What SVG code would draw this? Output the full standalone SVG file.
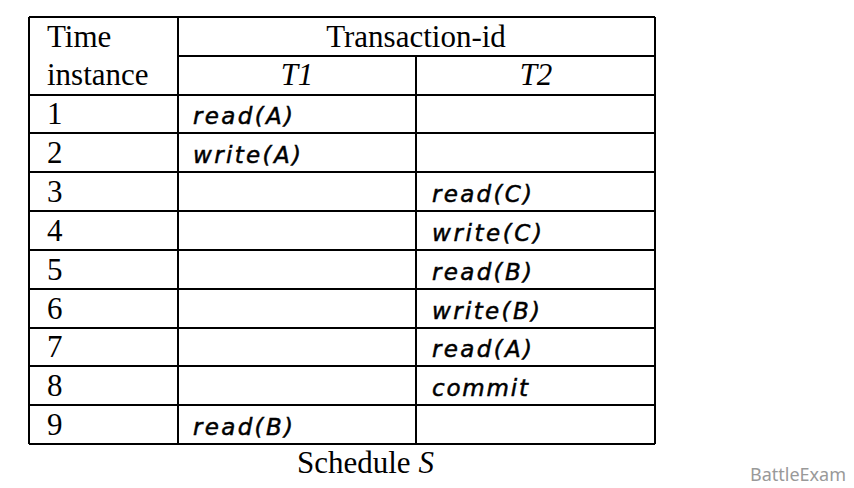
<svg xmlns="http://www.w3.org/2000/svg" width="854" height="488" viewBox="0 0 854 488">
<style>
.g line{stroke:#000;stroke-width:2}
.s{font-family:"Liberation Serif",serif;font-size:31px;fill:#000}
.d{font-family:"DejaVu Sans",sans-serif;font-style:italic;font-size:23px;fill:#000;stroke:#000;stroke-width:0.5}
.c{text-anchor:middle}
</style>
<rect width="854" height="488" fill="#fff"/>
<g id="grid" class="g">
<line x1="29" y1="17" x2="655" y2="17"/>
<line x1="178" y1="56" x2="655" y2="56"/>
<line x1="29" y1="95" x2="655" y2="95"/>
<line x1="29" y1="133" x2="655" y2="133"/>
<line x1="29" y1="172" x2="655" y2="172"/>
<line x1="29" y1="211" x2="655" y2="211"/>
<line x1="29" y1="250" x2="655" y2="250"/>
<line x1="29" y1="289" x2="655" y2="289"/>
<line x1="29" y1="328" x2="655" y2="328"/>
<line x1="29" y1="366" x2="655" y2="366"/>
<line x1="29" y1="405" x2="655" y2="405"/>
<line x1="29" y1="444" x2="655" y2="444"/>
<line x1="29" y1="17" x2="29" y2="444"/>
<line x1="178" y1="17" x2="178" y2="444"/>
<line x1="416" y1="56" x2="416" y2="444"/>
<line x1="655" y1="17" x2="655" y2="444"/>
</g>
<g id="header">
<text class="s" x="47" y="47">Time</text>
<text class="s" x="47" y="85">instance</text>
<text class="s c" x="416" y="47">Transaction-id</text>
<text class="s c" x="297" y="85" font-style="italic">T1</text>
<text class="s c" x="536" y="85" font-style="italic">T2</text>
</g>
<g id="times" class="s">
<text x="47" y="124">1</text>
<text x="47" y="163">2</text>
<text x="47" y="202">3</text>
<text x="47" y="241">4</text>
<text x="47" y="280">5</text>
<text x="47" y="319">6</text>
<text x="47" y="357">7</text>
<text x="47" y="396">8</text>
<text x="47" y="435">9</text>
</g>
<g id="ops" class="d">
<text x="193" y="124" textLength="100">read(A)</text>
<text x="193" y="163" textLength="108">write(A)</text>
<text x="432" y="202" textLength="100">read(C)</text>
<text x="432" y="241" textLength="110">write(C)</text>
<text x="432" y="280" textLength="100">read(B)</text>
<text x="432" y="319" textLength="108">write(B)</text>
<text x="432" y="357" textLength="100">read(A)</text>
<text x="432" y="396" textLength="96">commit</text>
<text x="193" y="435" textLength="100">read(B)</text>
</g>
<text class="s" x="297" y="473">Schedule <tspan font-style="italic">S</tspan></text>
<text x="750" y="481" font-family="'Noto Sans',sans-serif" font-size="18" fill="#999">BattleExam</text>
</svg>
